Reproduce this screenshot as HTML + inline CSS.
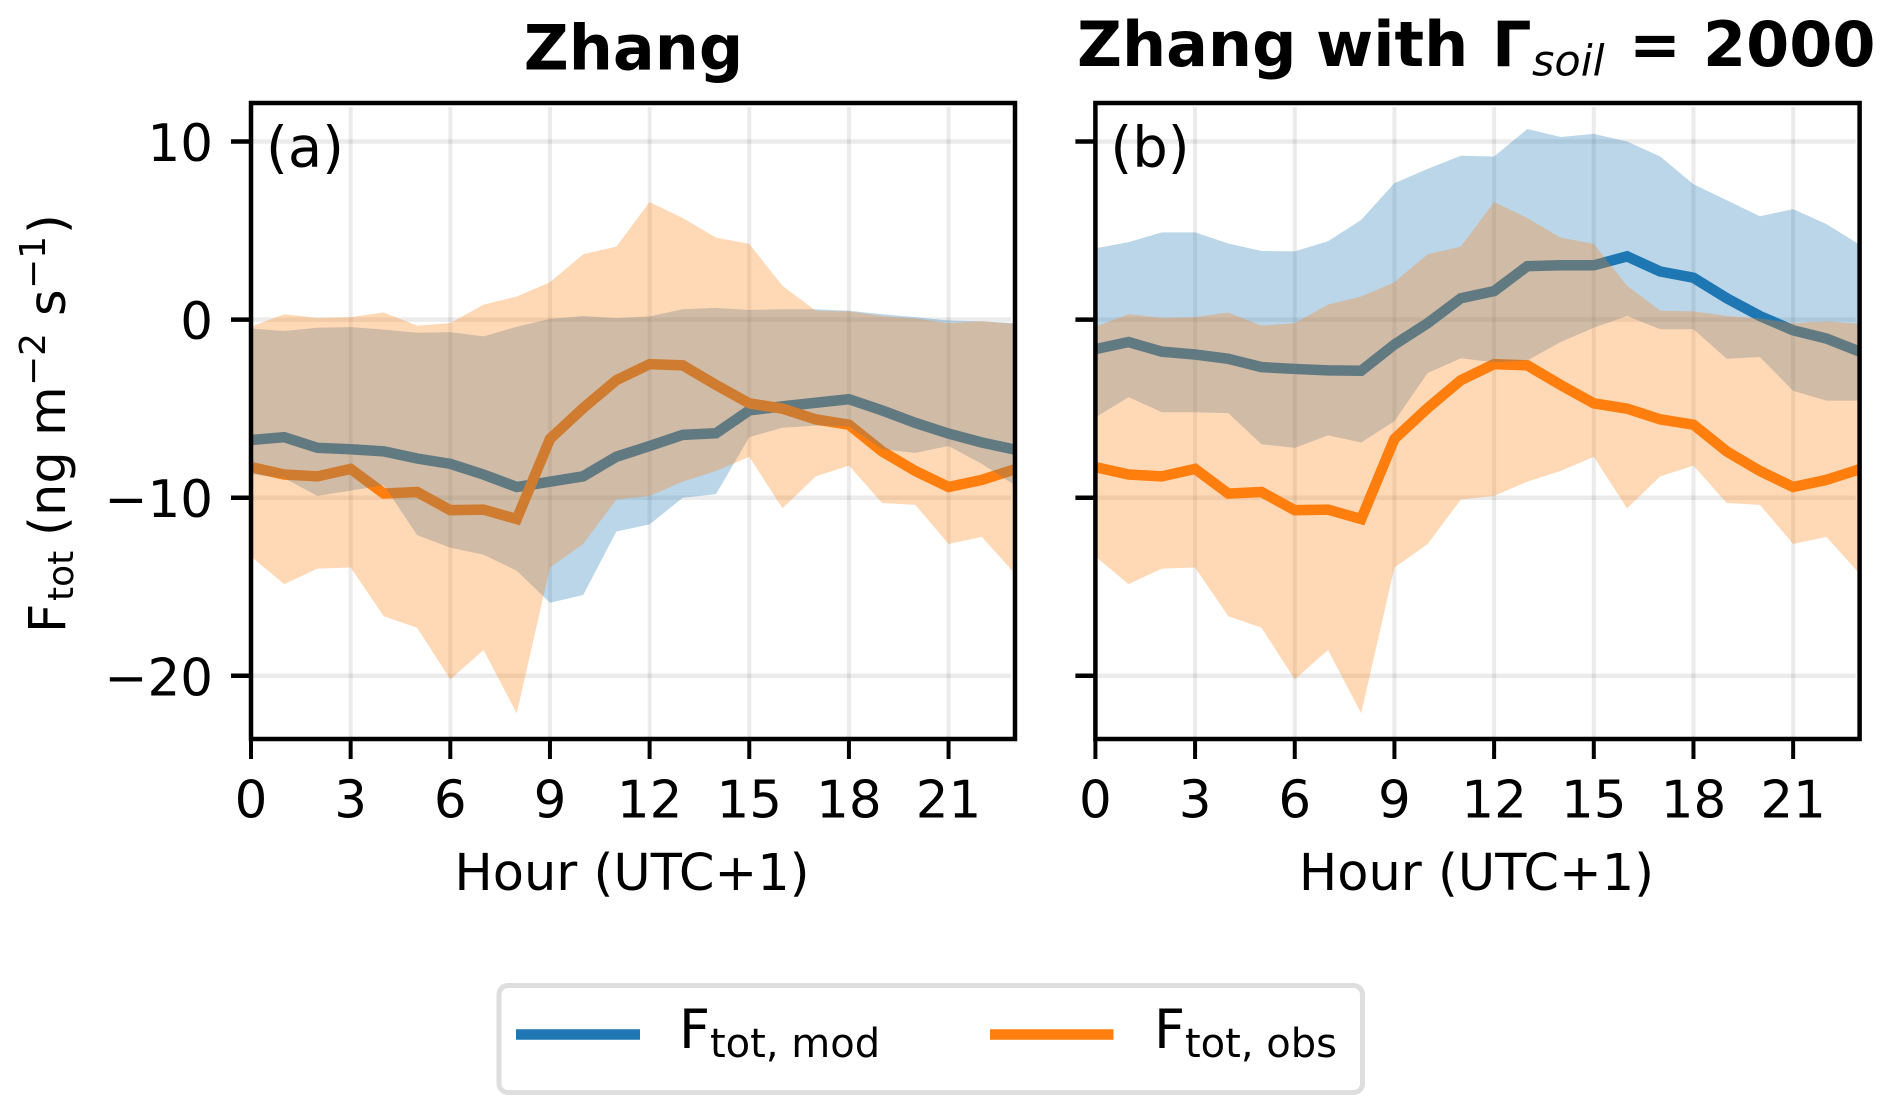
<!DOCTYPE html>
<html lang="en">
<head>
<meta charset="utf-8">
<title>Zhang flux comparison</title>
<style>
html,body{margin:0;padding:0;background:#fff;}
svg{display:block;}
text{font-family:"DejaVu Sans","Liberation Sans",sans-serif;fill:#000;}
</style>
</head>
<body>
<svg id="chart" xmlns="http://www.w3.org/2000/svg" width="1892" height="1115" viewBox="0 0 1892 1115">
  <rect x="0" y="0" width="1892" height="1115" fill="#ffffff"/>
  <text x="633.5" y="69.5" text-anchor="middle" font-size="62" font-weight="700">Zhang</text>
  <text y="66" font-size="62" font-weight="700"><tspan x="1077">Zhang</tspan> <tspan x="1316">with</tspan> <tspan x="1492">Γ</tspan><tspan x="1532" y="75.5" font-size="43" font-weight="400" font-style="italic">soil</tspan> <tspan x="1629" y="66">=</tspan> <tspan x="1703">2000</tspan></text>
  <text transform="rotate(-90)" font-size="51"><tspan x="-633" y="65">F</tspan><tspan x="-601" y="73" font-size="36">tot</tspan> <tspan x="-536" y="65">(</tspan><tspan x="-516" y="65">ng</tspan> <tspan x="-436" y="65">m</tspan> <tspan x="-386" y="45" font-size="36">−2</tspan> <tspan x="-316" y="65">s</tspan> <tspan x="-289" y="45" font-size="36">−1</tspan><tspan x="-234" y="65">)</tspan></text>
  <g id="panel-a"></g>
  <g id="panel-b"></g>
  <g>
    <rect x="499" y="985.5" width="863.5" height="107" rx="9" ry="9" fill="#ffffff" stroke="#dedede" stroke-width="5"/>
    <line x1="516" x2="640" y1="1034.5" y2="1034.5" stroke="#1f77b4" stroke-width="10.5"/>
    <text font-size="54"><tspan x="679" y="1048">F</tspan><tspan x="710" y="1057" font-size="40">tot, mod</tspan></text>
    <line x1="990" x2="1113.5" y1="1034.5" y2="1034.5" stroke="#ff7f0e" stroke-width="10.5"/>
    <text font-size="54"><tspan x="1154" y="1048">F</tspan><tspan x="1185" y="1057" font-size="40">tot, obs</tspan></text>
  </g>
</svg>
<script>
const hours = [0,1,2,3,4,5,6,7,8,9,10,11,12,13,14,15,16,17,18,19,20,21,22,23];
const xTickValues = [0,3,6,9,12,15,18,21];
const yTickValues = [10,0,-10,-20];
const yTickLabels = ['10','0','−10','−20'];
const xLabelText = 'Hour (UTC+1)';

const obsMean = [-8.28,-8.7,-8.8,-8.38,-9.77,-9.68,-10.7,-10.67,-11.2,-6.7,-4.97,-3.4,-2.5,-2.57,-3.67,-4.7,-5,-5.6,-5.9,-7.4,-8.5,-9.4,-9,-8.4];
const obsUpper = [-0.4,0.3,0.1,0.14,0.4,-0.34,-0.2,0.84,1.3,2.1,3.67,4.1,6.6,5.7,4.6,4.25,1.9,0.5,0.46,0.2,0.06,-0.2,-0.1,-0.24];
const obsLower = [-13.3,-14.85,-13.98,-13.92,-16.66,-17.3,-20.2,-18.55,-22.1,-13.92,-12.6,-10.1,-9.9,-9.1,-8.5,-7.7,-10.6,-8.8,-8.2,-10.3,-10.4,-12.6,-12.2,-14.27];

const modMeanA = [-6.76,-6.6,-7.2,-7.28,-7.4,-7.8,-8.1,-8.7,-9.4,-9.1,-8.8,-7.7,-7.1,-6.47,-6.38,-5.1,-4.87,-4.67,-4.47,-5.1,-5.8,-6.4,-6.9,-7.3];
const modUpperA = [-0.5,-0.64,-0.46,-0.42,-0.56,-0.74,-0.7,-0.94,-0.4,0.04,0.2,0.08,0.18,0.58,0.66,0.54,0.58,0.58,0.5,0.3,0.14,-0.05,-0.1,-0.2];
const modLowerA = [-8.68,-8.9,-9.9,-9.6,-9.3,-12.1,-12.8,-13.2,-14.1,-15.9,-15.46,-11.9,-11.5,-10,-9.8,-6.6,-6.07,-5.95,-6,-7.28,-7.48,-7.1,-8.1,-9.3];

const modMeanB = [-1.66,-1.26,-1.8,-1.96,-2.2,-2.67,-2.77,-2.85,-2.87,-1.4,-0.2,1.2,1.6,3,3.05,3.05,3.55,2.7,2.35,1.2,0.2,-0.6,-1.06,-1.8];
const modUpperB = [4,4.35,4.9,4.9,4.27,3.85,3.83,4.4,5.6,7.66,8.46,9.2,9.16,10.7,10.25,10.43,10,9.16,7.6,6.7,5.8,6.2,5.37,4.2];
const modLowerB = [-5.5,-4.35,-5.2,-5.2,-5.25,-7,-7.2,-6.5,-6.9,-5.7,-3,-2.17,-2.4,-2.3,-1.26,-0.46,0.2,-0.54,-0.54,-2.2,-2.1,-4,-4.55,-4.55];

const SVG_NS = 'http://www.w3.org/2000/svg';
const plotTop = 103, plotBottom = 739;

function yScale(v) { return 319.6 - 17.81 * v; }

function make(tag, parent, attrs) {
  const el = document.createElementNS(SVG_NS, tag);
  for (const k in attrs) el.setAttribute(k, attrs[k]);
  parent.appendChild(el);
  return el;
}

function drawPanel(panelId, clipId, letter, left, right, modMean, modUpper, modLower) {
  const g = document.getElementById(panelId);
  const xScale = h => left + (right - left) * h / 23;
  const linePath = vals => hours.map((h, i) => (i ? 'L' : 'M') + xScale(h).toFixed(2) + ' ' + yScale(vals[i]).toFixed(2)).join(' ');
  const bandPath = (up, lo) => {
    const a = hours.map((h, i) => (i ? 'L' : 'M') + xScale(h).toFixed(2) + ' ' + yScale(up[i]).toFixed(2));
    const b = hours.slice().reverse().map((h, j) => 'L' + xScale(h).toFixed(2) + ' ' + yScale(lo[23 - j]).toFixed(2));
    return a.concat(b).join(' ') + ' Z';
  };

  const clip = make('clipPath', g, {id: clipId});
  make('rect', clip, {x: left, y: plotTop, width: right - left, height: plotBottom - plotTop});

  const plot = make('g', g, {'clip-path': 'url(#' + clipId + ')'});

  xTickValues.forEach(t => {
    const grid = make('line', plot, {x1: xScale(t), x2: xScale(t), y1: plotTop + 4, y2: plotBottom, stroke: '#000', 'stroke-opacity': 0.08, 'stroke-width': 4});
    
    
  });
  yTickValues.forEach(t => {
    const grid = make('line', plot, {x1: left, x2: right - 4, y1: yScale(t), y2: yScale(t), stroke: '#000', 'stroke-opacity': 0.08, 'stroke-width': 4.5});
    
    
  });

  const modLine = make('path', plot, {d: linePath(modMean), fill: 'none', stroke: '#1f77b4', 'stroke-width': 10.5, 'stroke-linejoin': 'miter'});
  
  

  const obsLine = make('path', plot, {d: linePath(obsMean), fill: 'none', stroke: '#ff7f0e', 'stroke-width': 10.5, 'stroke-linejoin': 'miter'});
  
  

  const modBand = make('path', plot, {d: bandPath(modUpper, modLower), fill: '#1f77b4', 'fill-opacity': 0.3});
  
  

  const obsBand = make('path', plot, {d: bandPath(obsUpper, obsLower), fill: '#ff7f0e', 'fill-opacity': 0.3});
  
  

  const frame = make('rect', g, {x: left, y: plotTop, width: right - left, height: plotBottom - plotTop, fill: 'none', stroke: '#000', 'stroke-width': 4.5});
  
  

  xTickValues.forEach(t => {
    const tick = make('line', g, {x1: xScale(t), x2: xScale(t), y1: plotBottom, y2: plotBottom + 20, stroke: '#000', 'stroke-width': 4});
    
    
    const label = make('text', g, {x: xScale(t), y: 817.5, 'text-anchor': 'middle', 'font-size': 51.5});
    label.textContent = String(t);
    
    
  });

  yTickValues.forEach((t, i) => {
    const tick = make('line', g, {x1: left - 20, x2: left, y1: yScale(t), y2: yScale(t), stroke: '#000', 'stroke-width': 4.5});
    
    
    if (letter === '(a)') {
      const label = make('text', g, {x: left - 38, y: yScale(t) + 19.5, 'text-anchor': 'end', 'font-size': 51.5});
      label.textContent = yTickLabels[i];
      
      
    }
  });

  const xLabel = make('text', g, {x: (left + right) / 2 - 1, y: 890, 'text-anchor': 'middle', 'font-size': 51});
  xLabel.textContent = xLabelText;
  
  

  const tag = make('text', g, {x: left + 15, y: 166.5, 'font-size': 56});
  tag.textContent = letter;
  
  
}

drawPanel('panel-a', 'clip-a', '(a)', 251, 1015, modMeanA, modUpperA, modLowerA);
drawPanel('panel-b', 'clip-b', '(b)', 1095.4, 1859.6, modMeanB, modUpperB, modLowerB);
</script>
</body>
</html>
